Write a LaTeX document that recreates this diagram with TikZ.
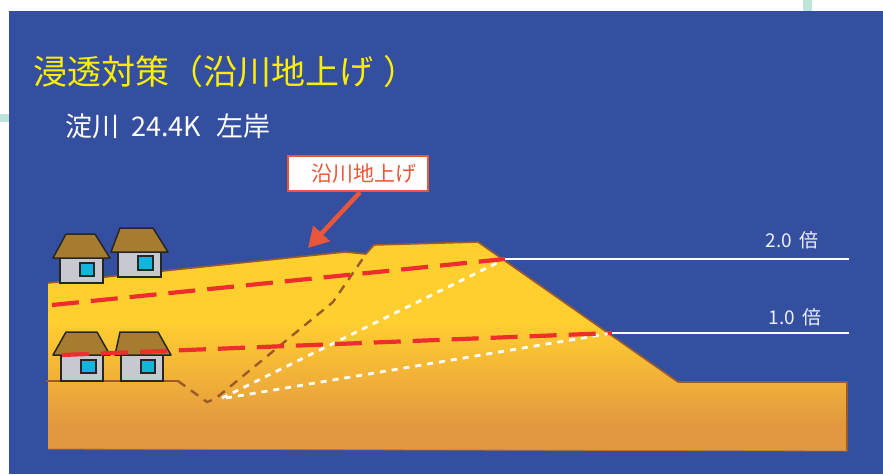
\documentclass[tikz,border=0pt]{standalone}
\usepackage{fontspec}
\newfontfamily\jp{Noto Sans CJK JP}
\usetikzlibrary{arrows.meta}

\definecolor{bgblue}{HTML}{344FA0}
\definecolor{mint}{HTML}{BFE5DA}
\definecolor{gyellow}{HTML}{FFCF30}
\definecolor{gmid}{HTML}{F2B238}
\definecolor{gorange}{HTML}{E1983F}
\definecolor{soil}{HTML}{9C5A28}
\definecolor{seep}{HTML}{EE2E2E}
\definecolor{roof}{HTML}{A67C2F}
\definecolor{wall}{HTML}{C6C9D0}
\definecolor{glass}{HTML}{14B4DC}
\definecolor{callout}{HTML}{E8573A}
\definecolor{titleyellow}{HTML}{FFEE00}
\definecolor{levelwhite}{HTML}{ECEFF6}

% soil body: orange at the bottom, yellow towards the crest
\pgfdeclareverticalshading{ground}{100bp}{color(0bp)=(gorange); color(31bp)=(gorange); color(43bp)=(gmid); color(56bp)=(gyellow); color(100bp)=(gyellow)}

\tikzset{
  outline/.style={draw=soil, line width=1.6pt, line join=round},
  oldlevee/.style={draw=soil, line width=2.4pt, dash pattern=on 9pt off 7pt},
  seepline/.style={draw=white, line width=2.8pt, dash pattern=on 6pt off 6pt},
  phreatic/.style={draw=seep, line width=4.2pt, dash pattern=on 27pt off 12pt},
  roofstyle/.style={fill=roof, draw=black!85, line width=1.5pt, line join=round},
  wallstyle/.style={fill=wall, draw=black!85, line width=1.5pt},
  winstyle/.style={fill=glass, draw=black!85, line width=1.3pt},
  waterlevel/.style={draw=white, line width=2pt},
  levellabel/.style={text=levelwhite, font=\jp\fontsize{19}{19}\selectfont, inner sep=0pt},
}

\begin{document}
\begin{tikzpicture}[x=1pt,y=-1pt]
\useasboundingbox (0,0) rectangle (883,474);
\fill[white] (0,0) rectangle (883,474);
\fill[mint] (803,0) rectangle (812,11);
\fill[mint] (0,114) rectangle (9,122);
\fill[bgblue] (9,11) rectangle (883,474);

% titles
\node[anchor=west, inner sep=0pt, text=titleyellow, font=\jp\fontsize{34}{34}\selectfont] (title) at (33,72) {浸透対策（沿川地上げ\hspace{10pt}）};
\node[anchor=west, inner sep=0pt, text=white, font=\jp\fontsize{27}{27}\selectfont] (subtitle) at (65,126) {淀川\hspace{12pt}24.4K\hspace{15pt}左岸};

% embankment and raised ground
\shade[shading=ground] (48,283) -- (345,252) -- (366,254) -- (374,245) -- (478,242)
  -- (678,382) -- (847,382) -- (847,451) -- (48,449) -- cycle;
\draw[outline] (48,283) -- (345,252) -- (366,254) -- (374,245) -- (478,242)
  -- (678,382) -- (847,382) -- (847,451);
\draw[draw=soil!60!gorange, line width=0.8pt] (48,449) -- (847,451);

% original ground level and former levee profile
\draw[outline, line width=2pt] (46,381) -- (178,381);
\draw[oldlevee] (178,381) -- (207,402) -- (215,399) -- (333,302) -- (366,254);

% seepage lines
\draw[seepline] (222,398) -- (505,259);
\draw[seepline] (226,398) -- (612,333);

% houses on the raised ground
\draw[wallstyle] (60,258) rectangle (103,283);
\draw[roofstyle] (66,234) -- (95,234) -- (110,258) -- (53,258) -- cycle;
\draw[winstyle] (80,263) rectangle (94,276);
\draw[wallstyle] (118,252) rectangle (161,277);
\draw[roofstyle] (120,228) -- (153,228) -- (168,252) -- (111,252) -- cycle;
\draw[winstyle] (138,256) rectangle (153,270);

% houses on the original ground
\draw[wallstyle] (61,355) rectangle (103,381);
\draw[roofstyle] (66,332) -- (97,332) -- (110,355) -- (53,355) -- cycle;
\draw[winstyle] (81,360) rectangle (96,373);
\draw[wallstyle] (121,355) rectangle (163,381);
\draw[roofstyle] (120,332) -- (158,332) -- (171,355) -- (115,355) -- cycle;
\draw[winstyle] (141,360) rectangle (155,373);

% phreatic lines
\coordinate (p2) at (505,259);
\coordinate (p1) at (612,333);
\draw[phreatic] (52,305) -- (p2);
\draw[phreatic] (62,355) -- (p1);

% river water levels
\coordinate (p2e) at (849,259);
\coordinate (p1e) at (849,333);
\draw[waterlevel] (p2) -- (p2e);
\draw[waterlevel] (p1) -- (p1e);
\node[levellabel] (l2) at (792,240) {2.0\hspace{3pt} 倍};
\node[levellabel] (l1) at (795,317) {1.0\hspace{3pt} 倍};

% callout
\node[draw=callout, line width=2.5pt, fill=white, minimum width=140pt, minimum height=35pt,
  inner sep=0pt, text=callout, font=\jp\fontsize{21}{21}\selectfont] (lbl) at (358,173.5)
  {\hspace{12pt}沿川地上げ};
\coordinate (tip) at (308,248);
\draw[callout, line width=4.5pt, -{Triangle[length=20pt,width=22pt]}] (lbl.south) ++(2,0) coordinate (tail) -- (tip);
\end{tikzpicture}
\end{document}
